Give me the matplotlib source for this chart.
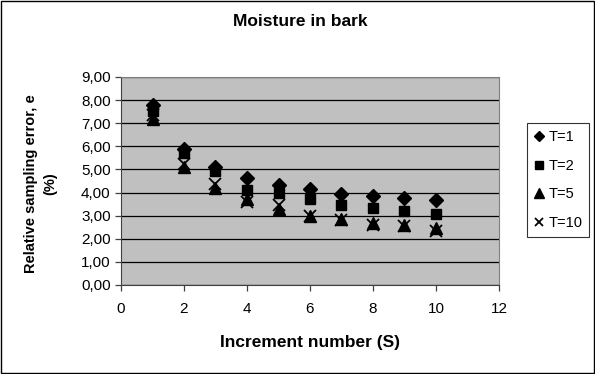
import numpy as np
import matplotlib.pyplot as plt
from matplotlib.patches import Rectangle
from matplotlib.ticker import FuncFormatter

plt.rcParams['font.family'] = ['Liberation Sans', 'DejaVu Sans']

s = [1, 2, 3, 4, 5, 6, 7, 8, 9, 10]
t1 = [7.80, 5.90, 5.12, 4.64, 4.32, 4.15, 3.92, 3.85, 3.75, 3.68]
t2 = [7.55, 5.70, 4.93, 4.13, 3.98, 3.70, 3.48, 3.35, 3.20, 3.07]
t5 = [7.20, 5.10, 4.20, 3.70, 3.30, 3.00, 2.85, 2.70, 2.60, 2.45]
t10 = [7.35, 5.25, 4.35, 3.60, 3.45, 3.00, 2.80, 2.60, 2.55, 2.35]
labels = ["T=1", "T=2", "T=5", "T=10"]

fig = plt.figure(figsize=(5.95, 3.74), dpi=100)
ax = fig.add_axes([121/595, 1-285/374, 378/595, 208/374])
ax.set_facecolor('#c0c0c0')

ax.plot(s, t1, 'D', color='black', ms=7, ls='none', label=labels[0])
ax.plot(s, t2, 's', color='black', ms=7.5, ls='none', label=labels[1])
ax.plot(s, t5, '^', color='black', ms=9, ls='none', label=labels[2])
ax.plot(s, t10, 'x', color='black', ms=8, mew=1.3, ls='none', label=labels[3])

ax.set_xlim(0, 12)
ax.set_ylim(0, 9)
ax.set_xticks(range(0, 13, 2))
ax.set_yticks(range(0, 10))
ax.yaxis.set_major_formatter(FuncFormatter(lambda v, p: f"{v:.2f}".replace('.', ',')))
ax.grid(axis='y', color='black', lw=0.9)
ax.set_axisbelow(True)
ax.tick_params(direction='out', length=4, width=0.9, labelsize=11, color='#404040')
ax.tick_params(axis='x', pad=8)
for side in ['top', 'right']:
    ax.spines[side].set_color('#808080')
for side in ['left', 'bottom']:
    ax.spines[side].set_color('#404040')

fig.text(300/595, 1-22/374, "Moisture in bark", ha='center', va='center',
         fontsize=12.5, fontweight='bold')
fig.text(310/595, 1-342/374, "Increment number (S)", ha='center', va='center',
         fontsize=12.5, fontweight='bold')
fig.text(31/595, 1-184/374, "Relative sampling error, e", ha='center', va='center',
         rotation=90, fontsize=10.5, fontweight='bold')
fig.text(50/595, 1-184/374, "(%)", ha='center', va='center',
         rotation=90, fontsize=10.5, fontweight='bold')

# legend box on the right, centred on the plot area
leg = fig.legend(loc='center left', bbox_to_anchor=(527/595, 1-180/374),
                 frameon=True, fancybox=False, edgecolor='black', fontsize=10.5,
                 handlelength=0.6, handletextpad=0.35, labelspacing=1.0,
                 borderpad=0.5, borderaxespad=0, markerscale=0.75)
leg.get_frame().set_linewidth(0.8)

# chart border
fig.patches.append(Rectangle((0.001, 0.002), 0.997, 0.995, transform=fig.transFigure,
                             fill=False, edgecolor='black', lw=1))

fig.savefig("out.png", dpi=100)
